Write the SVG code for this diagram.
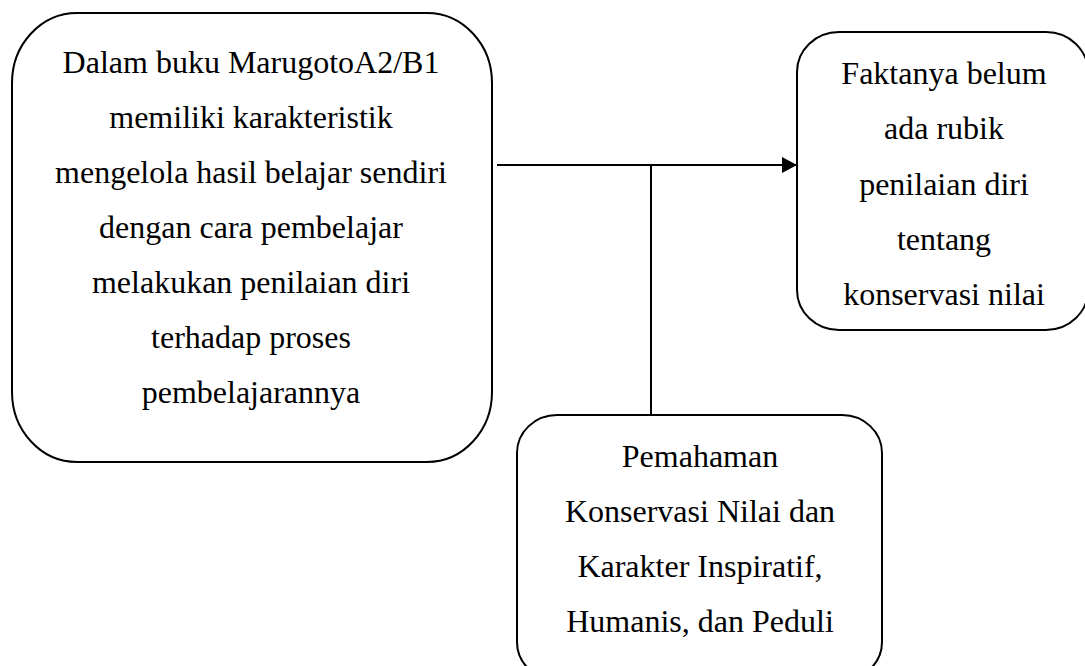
<svg xmlns="http://www.w3.org/2000/svg" width="1085" height="666" viewBox="0 0 1085 666">
<style>
.box{fill:#fff;stroke:#000;stroke-width:2}
.t{font-family:"Liberation Serif","Times New Roman",serif;font-size:32px;fill:#000;text-anchor:middle}
.c{stroke:#000;stroke-width:2;fill:none}
</style>
<defs>
<marker id="ah" markerUnits="userSpaceOnUse" markerWidth="16" markerHeight="18" refX="15" refY="8" orient="auto">
<path d="M0,0 L15,8 L0,16 Z" fill="#000"/>
</marker>
</defs>
<rect width="1085" height="666" fill="#fff"/>
<g id="connectors">
<line class="c" x1="497" y1="165" x2="797" y2="165" marker-end="url(#ah)"/>
<line class="c" x1="651" y1="165" x2="651" y2="415"/>
</g>
<g id="node1">
<rect class="box" x="12" y="13" width="480" height="449" rx="65" ry="70"/>
<text class="t" x="251" y="73">Dalam buku MarugotoA2/B1</text>
<text class="t" x="251" y="128">memiliki karakteristik</text>
<text class="t" x="251" y="183">mengelola hasil belajar sendiri</text>
<text class="t" x="251" y="238">dengan cara pembelajar</text>
<text class="t" x="251" y="293">melakukan penilaian diri</text>
<text class="t" x="251" y="348">terhadap proses</text>
<text class="t" x="251" y="403">pembelajarannya</text>
</g>
<g id="node2">
<rect class="box" x="797" y="32" width="291" height="298" rx="42" ry="40"/>
<text class="t" x="944" y="84">Faktanya belum</text>
<text class="t" x="944" y="139">ada rubik</text>
<text class="t" x="944" y="195">penilaian diri</text>
<text class="t" x="944" y="250">tentang</text>
<text class="t" x="944" y="305">konservasi nilai</text>
</g>
<g id="node3">
<rect class="box" x="517" y="415" width="365" height="265" rx="40" ry="38"/>
<text class="t" x="700" y="467">Pemahaman</text>
<text class="t" x="700" y="522">Konservasi Nilai dan</text>
<text class="t" x="700" y="577">Karakter Inspiratif,</text>
<text class="t" x="700" y="632">Humanis, dan Peduli</text>
</g>
</svg>
